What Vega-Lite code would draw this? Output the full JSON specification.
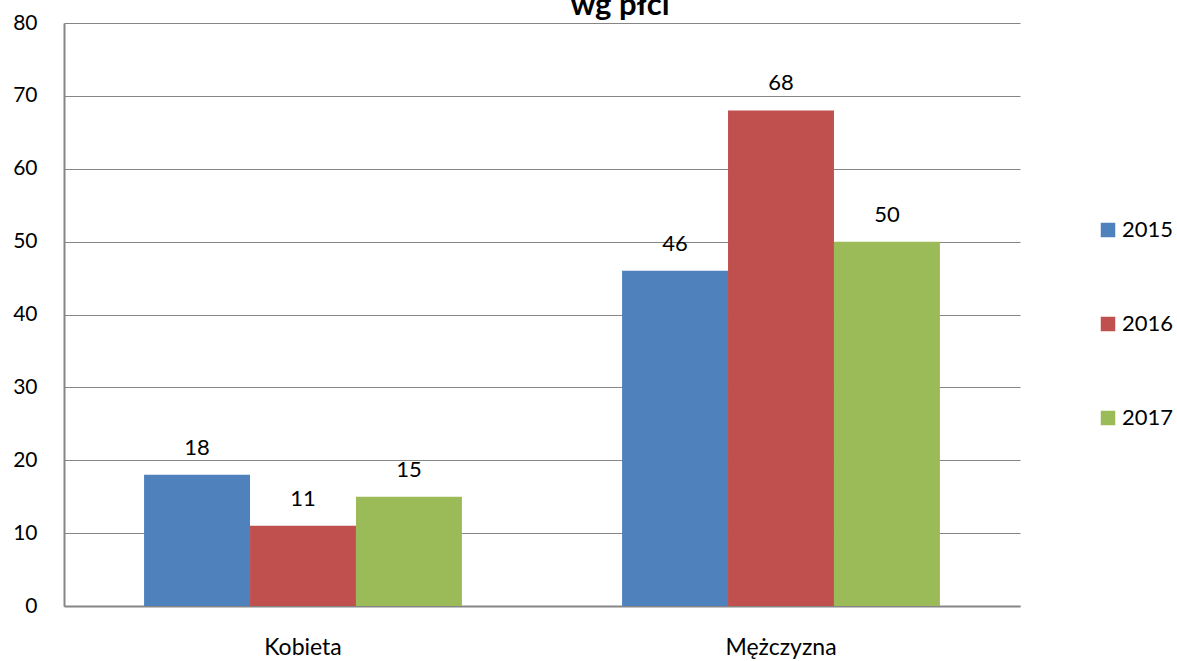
{
  "$schema": "https://vega.github.io/schema/vega-lite/v6.json",
  "autosize": "none",
  "width": 956,
  "height": 583,
  "padding": {"left": 64, "top": 23, "right": 157, "bottom": 55},
  "background": "white",
  "title": {
    "text": "wg płci",
    "fontSize": 31,
    "fontWeight": "bold",
    "font": "Lato",
    "color": "#000000",
    "anchor": "middle",
    "frame": "group",
    "baseline": "alphabetic",
    "offset": 5,
    "dx": 78,
    "dy": 39
  },
  "config": {
    "view": {"stroke": null},
    "font": "Lato"
  },
  "data": {
    "values": [
      {"plec": "Kobieta", "rok": "2015", "wartosc": 18},
      {"plec": "Kobieta", "rok": "2016", "wartosc": 11},
      {"plec": "Kobieta", "rok": "2017", "wartosc": 15},
      {"plec": "Mężczyzna", "rok": "2015", "wartosc": 46},
      {"plec": "Mężczyzna", "rok": "2016", "wartosc": 68},
      {"plec": "Mężczyzna", "rok": "2017", "wartosc": 50}
    ]
  },
  "encoding": {
    "x": {
      "field": "plec",
      "type": "nominal",
      "sort": null,
      "scale": {"paddingInner": 0.335, "paddingOuter": 0.1675},
      "axis": {
        "title": null,
        "labelAngle": 0,
        "labelFontSize": 23,
        "labelColor": "#000000",
        "labelPadding": 30,
        "ticks": false,
        "domainColor": "#868686",
        "domainWidth": 2,
        "grid": false
      }
    },
    "xOffset": {"field": "rok", "type": "nominal", "scale": {"paddingInner": 0, "paddingOuter": 0}},
    "y": {
      "field": "wartosc",
      "type": "quantitative",
      "scale": {"domain": [0, 80], "nice": false},
      "axis": {
        "title": null,
        "values": [0, 10, 20, 30, 40, 50, 60, 70, 80],
        "labelFontSize": 21,
        "labelColor": "#000000",
        "labelPadding": 27,
        "ticks": false,
        "domainColor": "#868686",
        "domainWidth": 2,
        "gridColor": "#868686",
        "gridWidth": 1
      }
    }
  },
  "layer": [
    {
      "mark": {"type": "bar"},
      "encoding": {
        "color": {
          "field": "rok",
          "type": "nominal",
          "scale": {"domain": ["2015", "2016", "2017"], "range": ["#4F81BD", "#C0504D", "#9BBB59"]},
          "legend": {
            "title": null,
            "orient": "none",
            "legendX": 1033,
            "legendY": 196,
            "padding": 0,
            "symbolType": "square",
            "symbolSize": 210,
            "symbolStrokeWidth": 0,
            "labelFontSize": 22,
            "labelColor": "#000000",
            "labelOffset": 3,
            "rowPadding": 72
          }
        }
      }
    },
    {
      "mark": {"type": "text", "baseline": "alphabetic", "dy": -20, "fontSize": 22, "color": "#000000"},
      "encoding": {"text": {"field": "wartosc", "type": "quantitative"}}
    }
  ]
}
